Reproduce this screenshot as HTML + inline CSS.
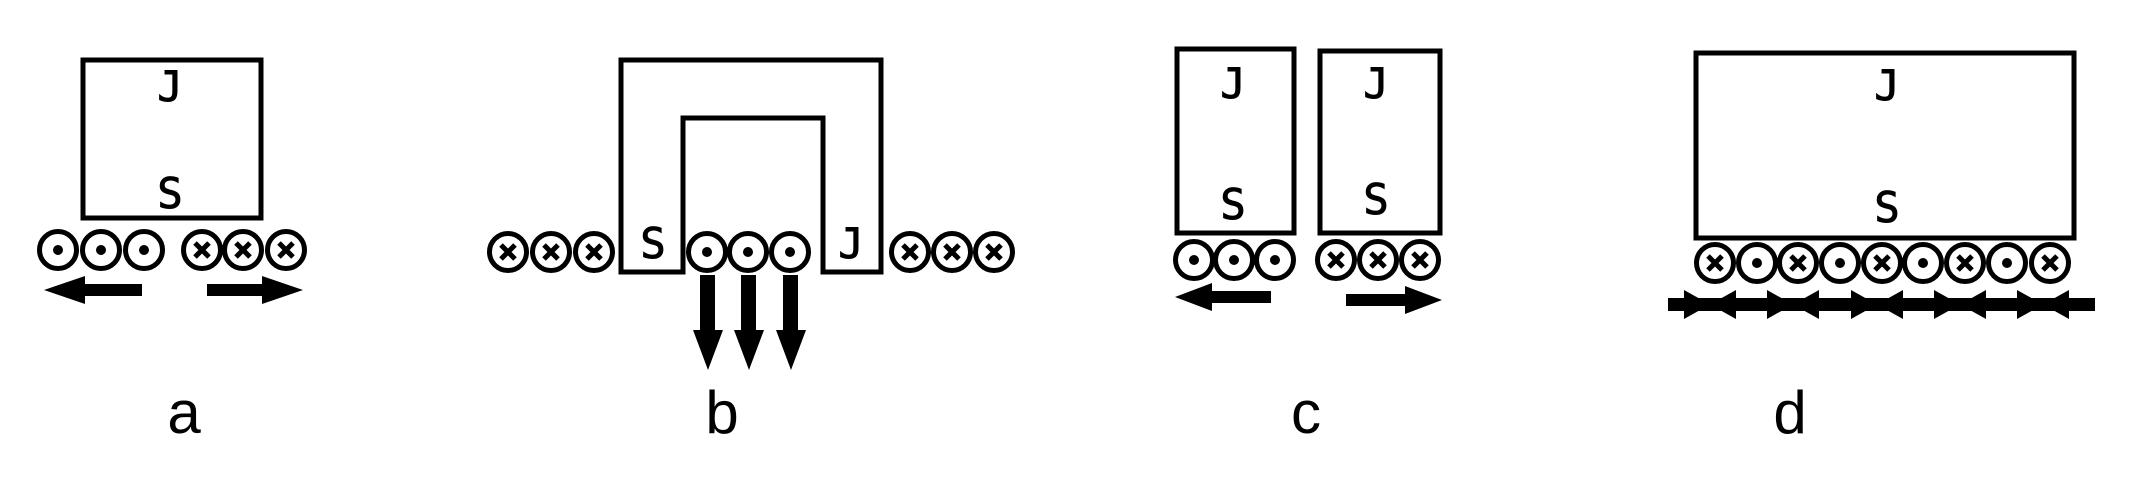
<!DOCTYPE html>
<html><head><style>html,body{margin:0;padding:0;background:#fff;}svg{display:block}</style></head>
<body>
<svg width="2133" height="477" viewBox="0 0 2133 477" xmlns="http://www.w3.org/2000/svg">
<defs>
<g id="dot"><circle r="18.5" fill="#fff" stroke="#000" stroke-width="5"/><circle r="5" fill="#000"/></g>
<g id="x"><circle r="18.5" fill="#fff" stroke="#000" stroke-width="5"/><path d="M-7,-7L7,7M7,-7L-7,7" stroke="#000" stroke-width="5"/></g>
</defs>
<g fill="none" stroke="#000" stroke-width="5">
<rect x="83" y="60" width="178" height="158"/>
<path d="M621,272 V60 H881 V272 H823 V118 H683 V272 Z"/>
<rect x="1177" y="49" width="117" height="184"/>
<rect x="1320" y="51" width="120" height="182"/>
<rect x="1696" y="53" width="378" height="185"/>
</g>
<g font-family="'DejaVu Sans Mono','Liberation Mono',monospace" font-size="42" text-anchor="middle" fill="#000" stroke="#000" stroke-width="1">
<text x="170" y="101">J</text><text x="170" y="208">S</text>
<text x="653" y="258">S</text><text x="851" y="258">J</text>
<text x="1233" y="98">J</text><text x="1233" y="219">S</text>
<text x="1376" y="98">J</text><text x="1376" y="214">S</text>
<text x="1887" y="100">J</text><text x="1887" y="222">S</text>
</g>
<use href="#dot" x="58" y="250"/><use href="#dot" x="101" y="250"/><use href="#dot" x="144" y="250"/>
<use href="#x" x="202" y="250"/><use href="#x" x="243" y="250"/><use href="#x" x="286" y="250"/>
<path d="M44,290 L85,276 V284 H142 V296 H85 V304 Z" fill="#000"/>
<path d="M303,290 L262,276 V284 H207 V296 H262 V304 Z" fill="#000"/>
<use href="#x" x="508" y="252"/><use href="#x" x="551" y="252"/><use href="#x" x="594" y="252"/>
<use href="#dot" x="707" y="252"/><use href="#dot" x="748" y="252"/><use href="#dot" x="790" y="252"/>
<use href="#x" x="910" y="252"/><use href="#x" x="952" y="252"/><use href="#x" x="994" y="252"/>
<g fill="#000">
<path d="M700,275 h15 v55 h8 l-15,40 l-15,-40 h7 z"/>
<path d="M741,275 h15 v55 h8 l-15,40 l-15,-40 h7 z"/>
<path d="M783,275 h15 v55 h8 l-15,40 l-15,-40 h7 z"/>
</g>
<use href="#dot" x="1194" y="260"/><use href="#dot" x="1234" y="260"/><use href="#dot" x="1275" y="260"/>
<use href="#x" x="1336" y="260"/><use href="#x" x="1378" y="260"/><use href="#x" x="1420" y="260"/>
<path d="M1175,297 L1212,283 V291 H1271 V303 H1212 V311 Z" fill="#000"/>
<path d="M1442,300 L1405,286 V294 H1346 V306 H1405 V314 Z" fill="#000"/>
<use href="#x" x="1715" y="263"/><use href="#dot" x="1757" y="263"/><use href="#x" x="1798" y="263"/>
<use href="#dot" x="1840" y="263"/><use href="#x" x="1882" y="263"/><use href="#dot" x="1923" y="263"/>
<use href="#x" x="1965" y="263"/><use href="#dot" x="2007" y="263"/><use href="#x" x="2050" y="263"/>
<g fill="#000">
<rect x="1668" y="298" width="427" height="13"/>
<path d="M1684,290 L1710,304.5 L1684,319 Z M1736,290 L1710,304.5 L1736,319 Z"/>
<path d="M1767,290 L1793,304.5 L1767,319 Z M1819,290 L1793,304.5 L1819,319 Z"/>
<path d="M1851,290 L1877,304.5 L1851,319 Z M1903,290 L1877,304.5 L1903,319 Z"/>
<path d="M1934,290 L1960,304.5 L1934,319 Z M1986,290 L1960,304.5 L1986,319 Z"/>
<path d="M2017,290 L2043,304.5 L2017,319 Z M2069,290 L2043,304.5 L2069,319 Z"/>
</g>
<g font-family="'Liberation Sans',sans-serif" font-size="60" text-anchor="middle" fill="#000">
<text x="184" y="433">a</text><text x="722" y="433">b</text><text x="1306" y="433">c</text><text x="1790" y="433">d</text>
</g>
</svg>
</body></html>
